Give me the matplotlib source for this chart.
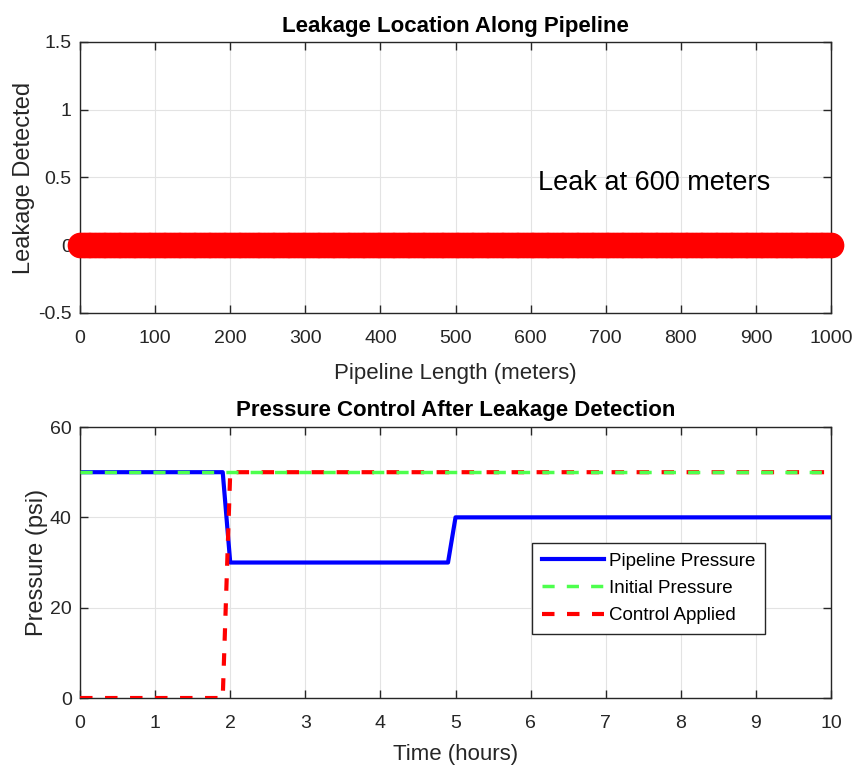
import numpy as np
import matplotlib
matplotlib.use('Agg')
from matplotlib import pyplot as plt

plt.rcParams['font.family'] = ['Liberation Sans', 'DejaVu Sans']

# top panel: detection flag along the pipeline
pipe_pos = np.linspace(0, 1000, 201)
leak_flag = np.zeros(len(pipe_pos))
leak_label = 'Leak at 600 meters'
leak_x = 610
leak_y = 0.5

# bottom panel: pressure vs time (breakpoints)
t_pipe = [0, 1.9, 2.0, 4.9, 5.0, 10]
p_pipe = [50, 50, 30, 30, 40, 40]
t_init = [0, 10]
p_init = [50, 50]
t_ctrl = [0, 1.9, 2.0, 10]
p_ctrl = [0, 0, 50, 50]

ax_col = '#262626'
grid_col = '#e3e3e3'

fig = plt.figure(figsize=(8.56, 7.69), dpi=100)
ax1 = fig.add_axes([0.0935, 0.593, 0.8773, 0.3524])
ax2 = fig.add_axes([0.0935, 0.0923, 0.8773, 0.3524])


def style(ax):
    ax.grid(True, color=grid_col, linewidth=0.8)
    ax.set_axisbelow(True)
    for s in ax.spines.values():
        s.set_color(ax_col)
        s.set_linewidth(1.0)
    ax.tick_params(direction='in', top=True, right=True, colors=ax_col,
                   labelsize=14, length=6, width=1.0, labelcolor='#262626')
    ax.tick_params(axis='x', pad=12.5)
    ax.tick_params(axis='y', pad=6)


ax1.plot(pipe_pos, leak_flag, 'o', color='red', markersize=17.5,
         markeredgecolor='red', clip_on=False, zorder=3)
ax1.annotate(leak_label, (leak_x, leak_y), xytext=(0, -4), textcoords='offset points',
             fontsize=19.5, va='center', ha='left', color='black')
ax1.set_xlim(0, 1000)
ax1.set_ylim(-0.5, 1.5)
ax1.set_xticks(np.arange(0, 1001, 100))
ax1.set_yticks([-0.5, 0, 0.5, 1, 1.5])
ax1.set_yticklabels(['-0.5', '0', '0.5', '1', '1.5'])
ax1.set_title('Leakage Location Along Pipeline', fontsize=16, fontweight='bold', pad=7)
ax1.set_xlabel('Pipeline Length (meters)', fontsize=16, color=ax_col)
ax1.set_ylabel('Leakage Detected', fontsize=17, color=ax_col)
ax1.xaxis.set_label_coords(0.5, -0.186)
ax1.yaxis.set_label_coords(-0.06, 0.5)
style(ax1)

ax2.plot(t_pipe, p_pipe, '-', color='blue', linewidth=3, label='Pipeline Pressure',
         zorder=2)
ax2.plot(t_init, p_init, '--', color='#4dff4d', linewidth=2.5, dashes=(3.5, 3.5),
         label='Initial Pressure', zorder=4)
ax2.plot(t_ctrl, p_ctrl, '--', color='red', linewidth=3, dashes=(3, 3),
         label='Control Applied', zorder=3)
ax2.set_xlim(0, 10)
ax2.set_ylim(0, 60)
ax2.set_xticks(np.arange(0, 11, 1))
ax2.set_yticks([0, 20, 40, 60])
ax2.set_title('Pressure Control After Leakage Detection', fontsize=16,
              fontweight='bold', pad=8)
ax2.set_xlabel('Time (hours)', fontsize=16, color=ax_col)
ax2.set_ylabel('Pressure (psi)', fontsize=17, color=ax_col)
ax2.xaxis.set_label_coords(0.5, -0.171)
ax2.yaxis.set_label_coords(-0.042, 0.5)
style(ax2)
leg = ax2.legend(loc='upper right', bbox_to_anchor=(0.912, 0.572), fontsize=13.5,
                 fancybox=False, framealpha=1, edgecolor=ax_col,
                 handlelength=3.3, borderpad=0.5, labelspacing=0.55,
                 handletextpad=0.3, borderaxespad=0)
leg.get_frame().set_linewidth(1.0)

fig.savefig('out.png', dpi=100)
